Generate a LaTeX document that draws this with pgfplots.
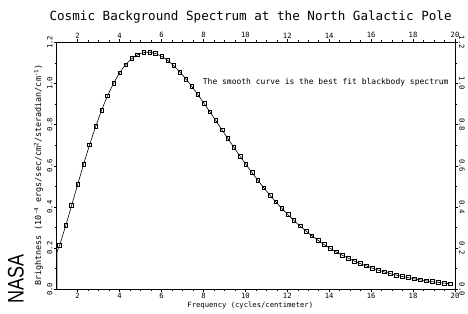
\documentclass[border=0pt]{standalone}
\usepackage{pgfplots}
\pgfplotsset{compat=1.18}
\usepackage{pgfplotstable}
\usepackage{fontspec}
\setmainfont{DejaVu Sans Mono}
\newfontfamily\nasafont{Liberation Sans}

\pgfplotstableread{
x y
1.14 0.2140
1.43 0.3093
1.71 0.4066
2.00 0.5089
2.29 0.6094
2.57 0.7020
2.86 0.7910
3.15 0.8718
3.43 0.9407
3.72 1.0019
4.01 1.0524
4.29 1.0909
4.58 1.1206
4.86 1.1396
5.15 1.1500
5.44 1.1513
5.72 1.1451
6.01 1.1314
6.30 1.1113
6.58 1.0866
6.87 1.0563
7.16 1.0221
7.44 0.9860
7.73 0.9461
8.02 0.9044
8.30 0.8630
8.59 0.8194
8.88 0.7755
9.16 0.7332
9.45 0.6901
9.74 0.6477
10.02 0.6077
10.31 0.5676
10.59 0.5303
10.88 0.4932
11.17 0.4577
11.45 0.4250
11.74 0.3930
12.03 0.3627
12.31 0.3351
12.60 0.3083
12.89 0.2832
13.17 0.2605
13.46 0.2386
13.75 0.2182
14.03 0.1999
14.32 0.1824
14.61 0.1662
14.89 0.1517
15.18 0.1379
15.47 0.1253
15.75 0.1140
16.04 0.1033
16.32 0.0939
16.61 0.0849
16.90 0.0767
17.18 0.0695
17.47 0.0627
17.76 0.0566
18.04 0.0511
18.33 0.0460
18.62 0.0414
18.90 0.0373
19.19 0.0335
19.48 0.0301
19.76 0.0271
}\datatable

\begin{document}
\begin{tikzpicture}
\pgfplotsset{
  commonaxis/.style={
    at={(0,0)}, anchor=south west,
    scale only axis, width=398.3pt, height=247pt,
    xmin=1, xmax=20, ymin=0, ymax=1.2,
    xtick={2,4,6,8,10,12,14,16,18,20}, minor x tick num=3,
    ytick={0,0.2,0.4,0.6,0.8,1.0,1.2}, minor y tick num=1,
    tick align=outside,
    major tick length=3pt, minor tick length=2pt,
    tick style={black, line width=0.5pt},
    axis line style={line width=0.6pt},
    /pgf/number format/assume math mode=true,
    ticklabel style={font=\fontsize{7.2}{8}\selectfont, inner sep=1pt},
    y tick label style={/pgf/number format/fixed, /pgf/number format/fixed zerofill, /pgf/number format/precision=1},
  }
}
\begin{axis}[commonaxis, tick pos=left, ticklabel pos=left,
  xticklabel style={inner sep=0.5pt},
  yticklabel style={rotate=90, anchor=south}]
  \draw[gray!55, line width=1.6pt] (axis cs:1,0) -- (axis cs:1,0.19);
  \addplot[black, line width=0.6pt, smooth] table[x=x,y=y] {\datatable};
  \addplot[black, line width=0.6pt] coordinates {(1.00,0.180) (1.14,0.2140)};
  \addplot[only marks, mark=square, mark size=1.9pt, mark options={black, line width=0.5pt}] table[x=x,y=y] {\datatable};
\end{axis}
\begin{axis}[commonaxis, tick pos=right, ticklabel pos=right,
  yticklabel style={rotate=-90, anchor=south}]
\end{axis}
% title
\node[anchor=center, font=\fontsize{12.6}{15}\selectfont] at (193.9pt,272.6pt)
  {Cosmic Background Spectrum at the North Galactic Pole};
% x label
\node[anchor=base, font=\fontsize{7.2}{9}\selectfont, inner sep=0pt] at (193.6pt,-18.5pt)
  {Frequency (cycles/centimeter)};
% y label
\node[rotate=90, anchor=center, font=\fontsize{8.4}{10}\selectfont, inner sep=0pt] at (-18.2pt,114.3pt)
  {Brightness (10\textsuperscript{-4} ergs/sec/cm\textsuperscript{2}/steradian/cm\textsuperscript{-1})};
% annotation
\node[anchor=base west, font=\fontsize{8}{10}\selectfont, inner sep=0pt] at (146pt,204.3pt)
  {The smooth curve is the best fit blackbody spectrum};
% NASA
\node[rotate=90, anchor=center, inner sep=0pt] at (-40.7pt,10pt)
  {\scalebox{1}[1.25]{\nasafont\fontsize{18}{20}\selectfont NASA}};
% bounding box
\path (-56.7pt,-23.7pt) rectangle (411.3pt,289.3pt);
\end{tikzpicture}
\end{document}
